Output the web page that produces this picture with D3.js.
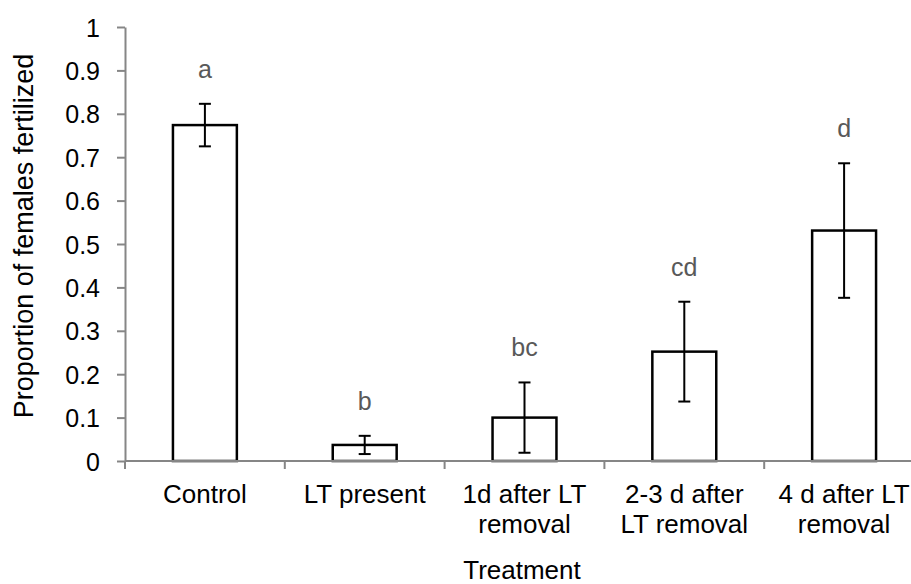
<html>
<head>
<script src="https://d3js.org/d3.v7.min.js"></script>
<style>
body { margin: 0; background: #fff; }
text { font-family: "Liberation Sans", Arial, sans-serif; }
</style>
</head>
<body>
  <div id="chart"></div>
</body>
<script>

const black = "#000";
const axisGray = "#868686";
const letterGray = "#595959";

// treatments, their label lines, means, error bar half-widths and group letters
var categories = ["Control", "LT present", "1d after LT removal", "2-3 d after LT removal", "4 d after LT removal"];
var labelLines = [["Control"], ["LT present"], ["1d after LT", "removal"], ["2-3 d after", "LT removal"], ["4 d after LT", "removal"]];
var means = [0.774, 0.037, 0.100, 0.252, 0.531];
var errors = [0.049, 0.021, 0.081, 0.115, 0.155];
var letters = ["a", "b", "bc", "cd", "d"];
var yTicks = [0, 0.1, 0.2, 0.3, 0.4, 0.5, 0.6, 0.7, 0.8, 0.9, 1];

var data = categories.map(function (c, i) {
  return { cat: c, lines: labelLines[i], mean: means[i], err: errors[i], letter: letters[i] };
});

var width = 911, height = 584;

var x = d3.scaleBand()
          .domain(categories)
          .range([125, 924])
          .padding(0);

var y = d3.scaleLinear()
          .domain([0, 1])
          .range([461, 27]);

var svg = d3.select("#chart").append("svg")
            .attr("width", width)
            .attr("height", height);

// bars
var barW = x.bandwidth() * 0.4;
svg.selectAll(".bar")
   .data(data)
   .enter()
   .append("rect")
   .attr("class", "bar")
   .attr("x", function (d) { return x(d.cat) + (x.bandwidth() - barW) / 2; })
   .attr("y", function (d) { return y(d.mean); })
   .attr("width", barW)
   .attr("height", function (d) { return y(0) - y(d.mean); })
   .attr("fill", "#fff")
   .attr("stroke", black)
   .attr("stroke-width", 2.5);

// y axis
var yAxis = svg.append("g")
               .attr("transform", "translate(125,0)")
               .call(d3.axisLeft(y)
                       .tickValues(yTicks)
                       .tickFormat(function (d) { return d; })
                       .tickSize(8)
                       .tickSizeOuter(0)
                       .tickPadding(17));
yAxis.select(".domain").attr("stroke", axisGray).attr("stroke-width", 2);
yAxis.selectAll(".tick line").attr("stroke", axisGray).attr("stroke-width", 2);
yAxis.selectAll(".tick text")
     .attr("font-size", "25px")
     .attr("font-family", "Liberation Sans, Arial, sans-serif")
     .attr("fill", black)
     .attr("dy", "0.36em");

// x axis line and boundary ticks
svg.append("line")
   .attr("x1", x.range()[0]).attr("x2", x.range()[1])
   .attr("y1", y(0)).attr("y2", y(0))
   .attr("stroke", axisGray)
   .attr("stroke-width", 2);

svg.selectAll(".xtick")
   .data(categories)
   .enter()
   .append("line")
   .attr("class", "xtick")
   .attr("x1", function (d) { return x(d); })
   .attr("x2", function (d) { return x(d); })
   .attr("y1", y(0))
   .attr("y2", y(0) + 8)
   .attr("stroke", axisGray)
   .attr("stroke-width", 2);

// x labels
var xLab = svg.selectAll(".xlab")
              .data(data)
              .enter()
              .append("text")
              .attr("class", "xlab")
              .attr("text-anchor", "middle")
              .attr("font-size", "26px")
              .attr("fill", black);
xLab.selectAll("tspan")
    .data(function (d) { return d.lines.map(function (l) { return { l: l, cx: x(d.cat) + x.bandwidth() / 2 }; }); })
    .enter()
    .append("tspan")
    .attr("x", function (d) { return d.cx; })
    .attr("y", function (d, i) { return 503 + i * 30; })
    .text(function (d) { return d.l; });

// error bars
var capW = 6;
var eb = svg.selectAll(".err")
            .data(data)
            .enter()
            .append("g")
            .attr("class", "err")
            .attr("stroke", black)
            .attr("stroke-width", 2);
eb.append("line")
  .attr("x1", function (d) { return x(d.cat) + x.bandwidth() / 2; })
  .attr("x2", function (d) { return x(d.cat) + x.bandwidth() / 2; })
  .attr("y1", function (d) { return y(d.mean + d.err); })
  .attr("y2", function (d) { return y(d.mean - d.err); });
eb.append("line")
  .attr("x1", function (d) { return x(d.cat) + x.bandwidth() / 2 - capW; })
  .attr("x2", function (d) { return x(d.cat) + x.bandwidth() / 2 + capW; })
  .attr("y1", function (d) { return y(d.mean + d.err); })
  .attr("y2", function (d) { return y(d.mean + d.err); });
eb.append("line")
  .attr("x1", function (d) { return x(d.cat) + x.bandwidth() / 2 - capW; })
  .attr("x2", function (d) { return x(d.cat) + x.bandwidth() / 2 + capW; })
  .attr("y1", function (d) { return y(d.mean - d.err); })
  .attr("y2", function (d) { return y(d.mean - d.err); });

// significance letters
svg.selectAll(".letter")
   .data(data)
   .enter()
   .append("text")
   .attr("class", "letter")
   .attr("x", function (d) { return x(d.cat) + x.bandwidth() / 2; })
   .attr("y", function (d) { return y(d.mean + d.err) - 26; })
   .attr("text-anchor", "middle")
   .attr("font-size", "25px")
   .attr("fill", letterGray)
   .text(function (d) { return d.letter; });

// axis titles
svg.append("text")
   .attr("x", 522)
   .attr("y", 579)
   .attr("text-anchor", "middle")
   .attr("font-size", "26px")
   .attr("fill", black)
   .text("Treatment");

svg.append("text")
   .attr("transform", "translate(33,236) rotate(-90)")
   .attr("text-anchor", "middle")
   .attr("font-size", "27px")
   .attr("fill", black)
   .text("Proportion of females fertilized");

</script>
</html>
